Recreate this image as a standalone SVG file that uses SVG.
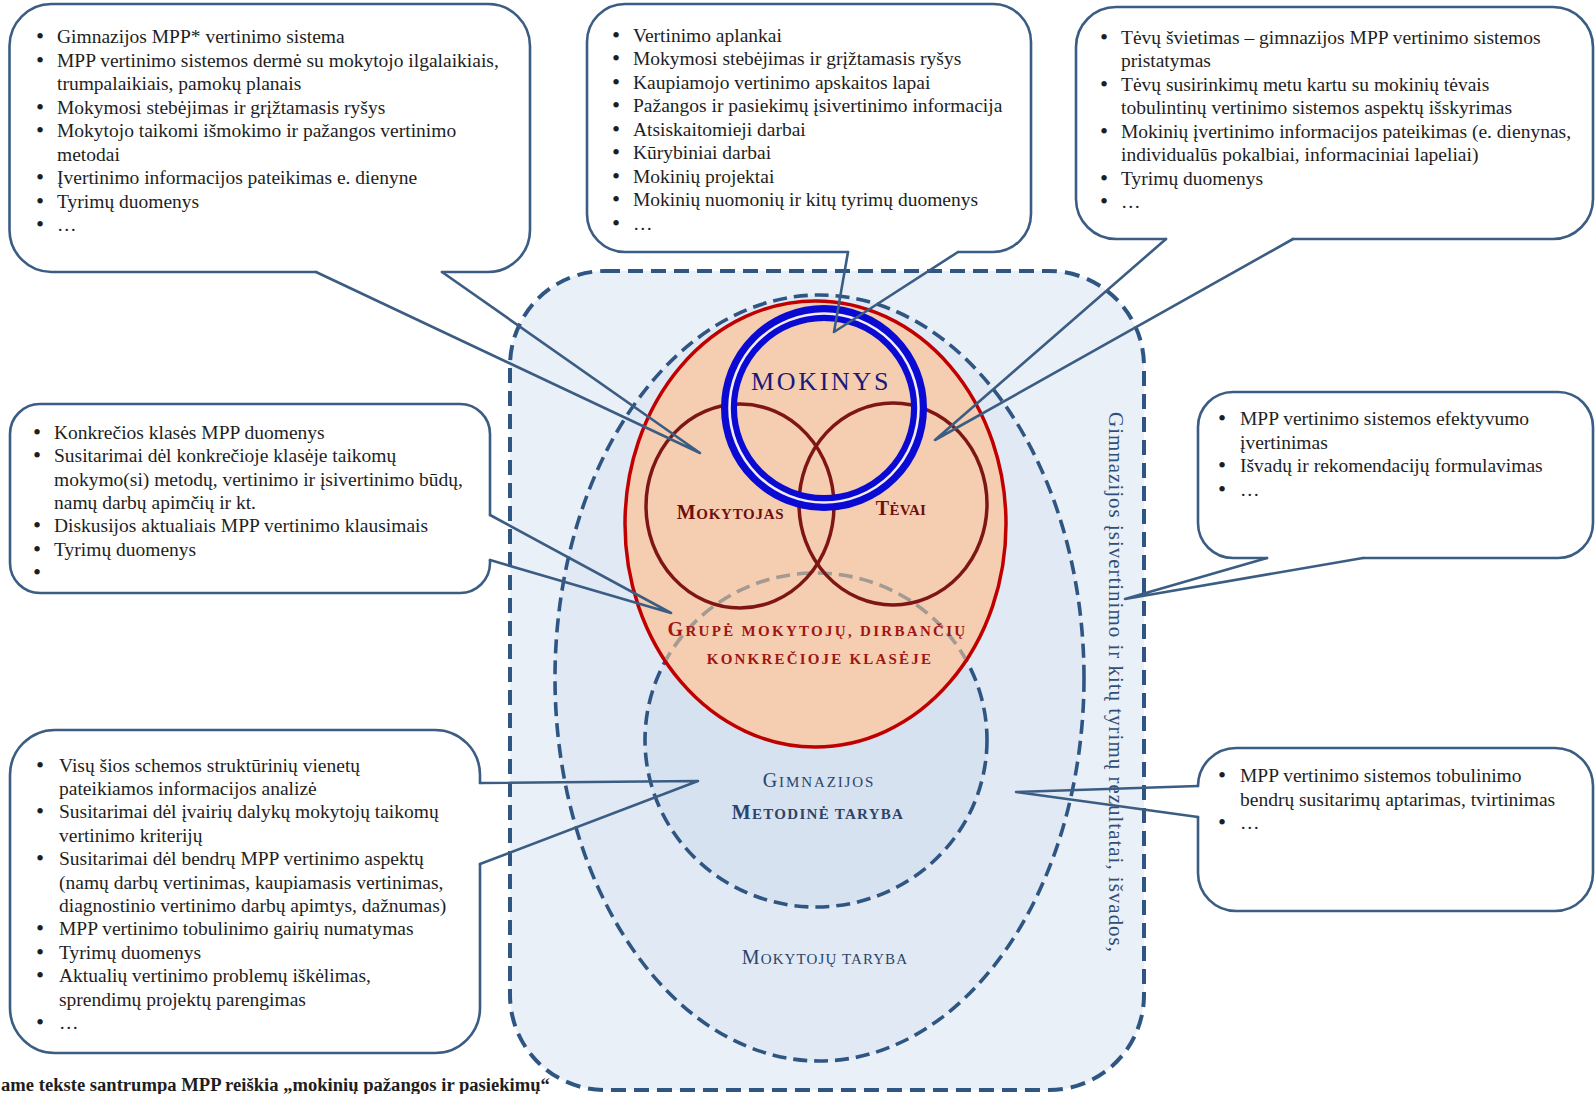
<svg xmlns="http://www.w3.org/2000/svg" width="1596" height="1094" viewBox="0 0 1596 1094">
<defs>
<style>
.box{fill:#ffffff;stroke:none}
.outline,.tail{fill:none;stroke:#3b5d84;stroke-width:2.6;stroke-linejoin:round;stroke-linecap:round}
.t{font-family:'Liberation Serif','Times New Roman',serif;font-size:19.5px;fill:#1e1e1e}
.b{text-anchor:middle;font-size:23px}
.dash{fill:none;stroke:#2f5683;stroke-dasharray:14 7}
.lbl{font-family:'Liberation Serif','Times New Roman',serif;text-anchor:middle}
.maroon{fill:none;stroke:#7f1616;stroke-width:3.5}
</style>
<clipPath id="redClip"><ellipse cx="815.5" cy="524" rx="189" ry="221.5"/></clipPath>
</defs>
<rect width="1596" height="1094" fill="#ffffff"/>

<g id="gimnazija">
<rect x="510" y="271" width="634" height="819" rx="95" ry="95" class="dash" style="fill:#eaf0f8;stroke-width:4;stroke-dasharray:15 8"/>
<text class="lbl" transform="translate(1109,412) rotate(90)" font-size="21" fill="#2f4f77" style="text-anchor:start" textLength="540" lengthAdjust="spacing">Gimnazijos įsivertinimo ir kitų tyrimų rezultatai, išvados,</text>
</g>

<g id="mokytoju-taryba">
<ellipse cx="819.5" cy="678" rx="264.5" ry="383" class="dash" style="fill:#e0e9f4;stroke-width:3.6"/>
<text class="lbl" x="825" y="964" fill="#2b4468" letter-spacing="1.1"><tspan font-size="20">M</tspan><tspan font-size="15">OKYTOJŲ TARYBA</tspan></text>
</g>

<g id="metodine-taryba">
<ellipse cx="816" cy="740" rx="171" ry="167" class="dash" style="fill:#d7e2f0;stroke-width:3.6"/>
<text class="lbl" x="819" y="787" fill="#2b4468" letter-spacing="1.9"><tspan font-size="20">G</tspan><tspan font-size="15">IMNAZIJOS</tspan></text>
<text class="lbl" x="818" y="819" fill="#2b4468" font-weight="bold" letter-spacing="1.3"><tspan font-size="20">M</tspan><tspan font-size="15">ETODINĖ TARYBA</tspan></text>
</g>

<g id="grupe">
<ellipse cx="815.5" cy="524" rx="190.5" ry="223" fill="#f5cdb1" stroke="#c00000" stroke-width="3.5"/>
<ellipse cx="816" cy="740" rx="171" ry="167" clip-path="url(#redClip)" fill="none" stroke="#a39a93" stroke-width="3.6" stroke-dasharray="14 7"/>
<text class="lbl" x="817.5" y="636" fill="#a01515" font-weight="bold" letter-spacing="2.3"><tspan font-size="20">G</tspan><tspan font-size="15">RUPĖ MOKYTOJŲ, DIRBANČIŲ</tspan></text>
<text class="lbl" x="820" y="664" fill="#a01515" font-weight="bold" font-size="15" letter-spacing="2.2">KONKREČIOJE KLASĖJE</text>
</g>

<g id="mokytojas">
<ellipse cx="740" cy="506" rx="94" ry="102" class="maroon"/>
<text class="lbl" x="730.5" y="519" fill="#6e0f0f" font-weight="bold" letter-spacing="0.7"><tspan font-size="20">M</tspan><tspan font-size="15">OKYTOJAS</tspan></text>
</g>

<g id="tevai">
<ellipse cx="893" cy="504" rx="94" ry="101" class="maroon"/>
<text class="lbl" x="901" y="515" fill="#6e0f0f" font-weight="bold" letter-spacing="0.3"><tspan font-size="20">T</tspan><tspan font-size="15">ĖVAI</tspan></text>
</g>

<g id="mokinys">
<circle cx="824" cy="408" r="95" fill="none" stroke="#0a0ad2" stroke-width="16"/>
<circle cx="824" cy="408" r="94.5" fill="none" stroke="#f3ecf6" stroke-width="2.6"/>
<text class="lbl" x="821" y="390" font-size="26" fill="#1a1a78" letter-spacing="2.7">MOKINYS</text>
</g>

<g id="callout-top-left">
<rect class="box" x="9.5" y="4" width="520.5" height="268" rx="42"/>
<path class="outline" d="M442 272 H488 A42 42 0 0 0 530 230 V46 A42 42 0 0 0 488 4 H51.5 A42 42 0 0 0 9.5 46 V230 A42 42 0 0 0 51.5 272 H316"/>
<text class="t b"><tspan x="40" y="44.3">•</tspan><tspan x="40" y="67.8">•</tspan><tspan x="40" y="114.7">•</tspan><tspan x="40" y="138.1">•</tspan><tspan x="40" y="185">•</tspan><tspan x="40" y="208.5">•</tspan><tspan x="40" y="231.9">•</tspan></text>
<text class="t">
<tspan x="57" y="43.3">Gimnazijos MPP* vertinimo sistema</tspan>
<tspan x="57" y="66.8">MPP vertinimo sistemos dermė su mokytojo ilgalaikiais,</tspan>
<tspan x="57" y="90.2">trumpalaikiais, pamokų planais</tspan>
<tspan x="57" y="113.7">Mokymosi stebėjimas ir grįžtamasis ryšys</tspan>
<tspan x="57" y="137.1">Mokytojo taikomi išmokimo ir pažangos vertinimo</tspan>
<tspan x="57" y="160.6">metodai</tspan>
<tspan x="57" y="184">Įvertinimo informacijos pateikimas e. dienyne</tspan>
<tspan x="57" y="207.5">Tyrimų duomenys</tspan>
<tspan x="57" y="230.9">…</tspan>
</text>
</g>

<g id="callout-top-middle">
<rect class="box" x="587" y="4" width="444" height="248" rx="38"/>
<path class="outline" d="M958 252 H993 A38 38 0 0 0 1031 214 V42 A38 38 0 0 0 993 4 H625 A38 38 0 0 0 587 42 V214 A38 38 0 0 0 625 252 H848"/>
<text class="t b"><tspan x="616" y="42.7">•</tspan><tspan x="616" y="66.2">•</tspan><tspan x="616" y="89.7">•</tspan><tspan x="616" y="113.2">•</tspan><tspan x="616" y="136.7">•</tspan><tspan x="616" y="160.2">•</tspan><tspan x="616" y="183.7">•</tspan><tspan x="616" y="207.2">•</tspan><tspan x="616" y="230.7">•</tspan></text>
<text class="t">
<tspan x="633" y="41.7">Vertinimo aplankai</tspan>
<tspan x="633" y="65.2">Mokymosi stebėjimas ir grįžtamasis ryšys</tspan>
<tspan x="633" y="88.7">Kaupiamojo vertinimo apskaitos lapai</tspan>
<tspan x="633" y="112.2">Pažangos ir pasiekimų įsivertinimo informacija</tspan>
<tspan x="633" y="135.7">Atsiskaitomieji darbai</tspan>
<tspan x="633" y="159.2">Kūrybiniai darbai</tspan>
<tspan x="633" y="182.7">Mokinių projektai</tspan>
<tspan x="633" y="206.2">Mokinių nuomonių ir kitų tyrimų duomenys</tspan>
<tspan x="633" y="229.7">…</tspan>
</text>
</g>

<g id="callout-top-right">
<rect class="box" x="1076" y="7" width="517" height="232" rx="40"/>
<path class="outline" d="M1293 239 H1553 A40 40 0 0 0 1593 199 V47 A40 40 0 0 0 1553 7 H1116 A40 40 0 0 0 1076 47 V199 A40 40 0 0 0 1116 239 H1166"/>
<text class="t b"><tspan x="1104" y="44.5">•</tspan><tspan x="1104" y="91.5">•</tspan><tspan x="1104" y="138.5">•</tspan><tspan x="1104" y="185.5">•</tspan><tspan x="1104" y="209">•</tspan></text>
<text class="t">
<tspan x="1121" y="43.5">Tėvų švietimas – gimnazijos MPP vertinimo sistemos</tspan>
<tspan x="1121" y="67">pristatymas</tspan>
<tspan x="1121" y="90.5">Tėvų susirinkimų metu kartu su mokinių tėvais</tspan>
<tspan x="1121" y="114">tobulintinų vertinimo sistemos aspektų išskyrimas</tspan>
<tspan x="1121" y="137.5">Mokinių įvertinimo informacijos pateikimas (e. dienynas,</tspan>
<tspan x="1121" y="161">individualūs pokalbiai, informaciniai lapeliai)</tspan>
<tspan x="1121" y="184.5">Tyrimų duomenys</tspan>
<tspan x="1121" y="208">…</tspan>
</text>
</g>

<g id="callout-middle-left">
<rect class="box" x="10" y="404" width="480" height="189" rx="30"/>
<path class="outline" d="M490 560 V563 A30 30 0 0 1 460 593 H40 A30 30 0 0 1 10 563 V434 A30 30 0 0 1 40 404 H460 A30 30 0 0 1 490 434 V515"/>
<text class="t b"><tspan x="37" y="439.7">•</tspan><tspan x="37" y="463.1">•</tspan><tspan x="37" y="533.3">•</tspan><tspan x="37" y="556.7">•</tspan><tspan x="37" y="580.1">•</tspan></text>
<text class="t">
<tspan x="54" y="438.7">Konkrečios klasės MPP duomenys</tspan>
<tspan x="54" y="462.1">Susitarimai dėl konkrečioje klasėje taikomų</tspan>
<tspan x="54" y="485.5">mokymo(si) metodų, vertinimo ir įsivertinimo būdų,</tspan>
<tspan x="54" y="508.9">namų darbų apimčių ir kt.</tspan>
<tspan x="54" y="532.3">Diskusijos aktualiais MPP vertinimo klausimais</tspan>
<tspan x="54" y="555.7">Tyrimų duomenys</tspan>
</text>
</g>

<g id="callout-right-middle">
<rect class="box" x="1198" y="392" width="395" height="166" rx="35"/>
<path class="outline" d="M1267 558 H1233 A35 35 0 0 1 1198 523 V427 A35 35 0 0 1 1233 392 H1558 A35 35 0 0 1 1593 427 V523 A35 35 0 0 1 1558 558 H1363"/>
<text class="t b"><tspan x="1222" y="426">•</tspan><tspan x="1222" y="473">•</tspan><tspan x="1222" y="496.5">•</tspan></text>
<text class="t">
<tspan x="1240" y="425">MPP vertinimo sistemos efektyvumo</tspan>
<tspan x="1240" y="448.5">įvertinimas</tspan>
<tspan x="1240" y="472">Išvadų ir rekomendacijų formulavimas</tspan>
<tspan x="1240" y="495.5">…</tspan>
</text>
</g>

<g id="callout-bottom-left">
<rect class="box" x="10" y="730" width="470" height="323" rx="45"/>
<path class="outline" d="M480 864 V1008 A45 45 0 0 1 435 1053 H55 A45 45 0 0 1 10 1008 V775 A45 45 0 0 1 55 730 H435 A45 45 0 0 1 480 775 V783"/>
<text class="t b"><tspan x="40" y="772.5">•</tspan><tspan x="40" y="819.3">•</tspan><tspan x="40" y="866.1">•</tspan><tspan x="40" y="936.3">•</tspan><tspan x="40" y="959.7">•</tspan><tspan x="40" y="983.1">•</tspan><tspan x="40" y="1029.9">•</tspan></text>
<text class="t">
<tspan x="59" y="771.5">Visų šios schemos struktūrinių vienetų</tspan>
<tspan x="59" y="794.9">pateikiamos informacijos analizė</tspan>
<tspan x="59" y="818.3">Susitarimai dėl įvairių dalykų mokytojų taikomų</tspan>
<tspan x="59" y="841.7">vertinimo kriterijų</tspan>
<tspan x="59" y="865.1">Susitarimai dėl bendrų MPP vertinimo aspektų</tspan>
<tspan x="59" y="888.5">(namų darbų vertinimas, kaupiamasis vertinimas,</tspan>
<tspan x="59" y="911.9">diagnostinio vertinimo darbų apimtys, dažnumas)</tspan>
<tspan x="59" y="935.3">MPP vertinimo tobulinimo gairių numatymas</tspan>
<tspan x="59" y="958.7">Tyrimų duomenys</tspan>
<tspan x="59" y="982.1">Aktualių vertinimo problemų iškėlimas,</tspan>
<tspan x="59" y="1005.5">sprendimų projektų parengimas</tspan>
<tspan x="59" y="1028.9">…</tspan>
</text>
</g>

<g id="callout-bottom-right">
<rect class="box" x="1198" y="748" width="395" height="163" rx="38"/>
<path class="outline" d="M1198 786 A38 38 0 0 1 1236 748 H1555 A38 38 0 0 1 1593 786 V873 A38 38 0 0 1 1555 911 H1236 A38 38 0 0 1 1198 873 V817"/>
<text class="t b"><tspan x="1222" y="783">•</tspan><tspan x="1222" y="830">•</tspan></text>
<text class="t">
<tspan x="1240" y="782">MPP vertinimo sistemos tobulinimo</tspan>
<tspan x="1240" y="805.5">bendrų susitarimų aptarimas, tvirtinimas</tspan>
<tspan x="1240" y="829">…</tspan>
</text>
</g>

<g id="connectors">
<polyline class="tail" points="316,272 700,453 442,272"/>
<polyline class="tail" points="848,252 834,332 958,252"/>
<polyline class="tail" points="1166,239 935,440 1293,239"/>
<polyline class="tail" points="490,515 671,613 490,560"/>
<polyline class="tail" points="1267,558 1125,599 1363,558"/>
<polyline class="tail" points="480,783 698,781 480,864"/>
<polyline class="tail" points="1198,786 1016,792 1198,817"/>
</g>

<g id="footnote">
<text class="t" x="1" y="1091" font-weight="bold" style="font-size:18.6px" fill="#2a2a2a">ame tekste santrumpa MPP reiškia „mokinių pažangos ir pasiekimų“</text>
</g>
</svg>
